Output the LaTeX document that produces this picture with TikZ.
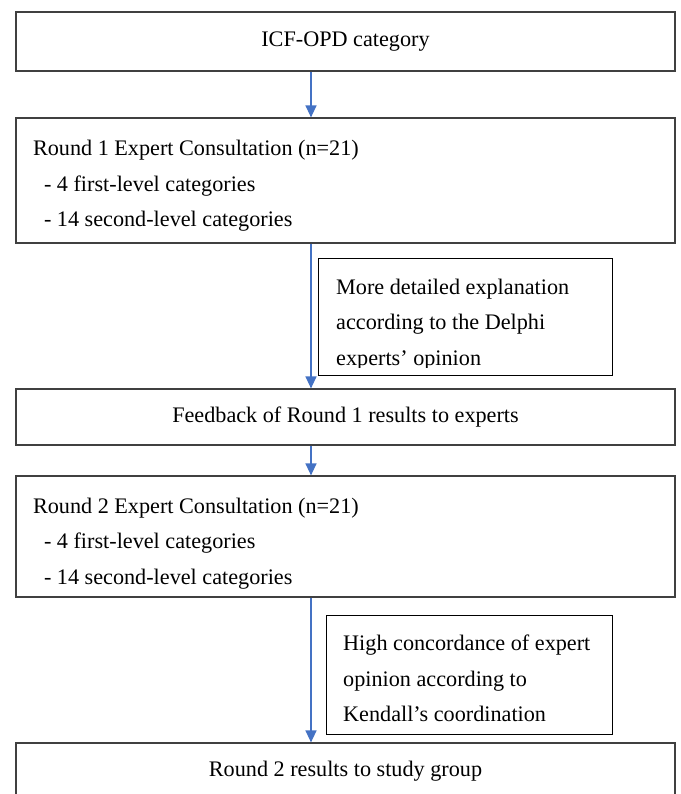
\documentclass[tikz,border=0pt]{standalone}
\usepackage{fontspec}
\setmainfont{Liberation Serif}
\usetikzlibrary{arrows.meta, positioning}
\definecolor{FlowBlue}{RGB}{68, 114, 196}
\definecolor{BoxLine}{RGB}{64, 64, 64}

\begin{document}
\begin{tikzpicture}[
    x=1pt, y=-1pt,
    font=\fontsize{22.2}{35.5}\selectfont,
    >={Triangle[length=12pt, width=11pt]},
    stage/.style={draw=BoxLine, line width=1.2pt, rectangle, minimum width=659pt,
                  text width=625pt, inner xsep=17pt, inner ysep=0pt, align=flush center},
    stagelist/.style={stage, align=flush left},
    notebox/.style={draw=black, line width=1pt, rectangle, inner sep=0pt},
    notetext/.style={anchor=north west, inner sep=0pt, align=left},
    flow/.style={->, FlowBlue, line width=1.3pt}
]

% --- Page frame (fixes margins) ---
\path[use as bounding box, clip] (0,0) rectangle (680,794);

% --- Main stages ---
\node[stage, minimum height=59pt] (icf) at (345.5, 41.5) {ICF-OPD category};
\node[stagelist, minimum height=125pt] (round1) at (345.5, 180.5)
    {\rule{0pt}{26pt}Round 1 Expert Consultation (n=21)\\
     \hspace*{11pt}- 4 first-level categories\\
     \hspace*{11pt}- 14 second-level categories};
\node[stage, minimum height=56pt] (feedback) at (345.5, 417) {Feedback of Round 1 results to experts};
\node[stagelist, minimum height=121pt] (round2) at (345.5, 536.5)
    {\rule{0pt}{29pt}Round 2 Expert Consultation (n=21)\\
     \hspace*{11pt}- 4 first-level categories\\
     \hspace*{11pt}- 14 second-level categories};
\node[stage, minimum height=56pt] (results) at (345.5, 771) {Round 2 results to study group};

% --- Side notes ---
\node[notebox, minimum width=294pt, minimum height=117pt] (note1) at (465, 316.5) {};
\begin{scope}
    \clip (note1.north west) rectangle ([yshift=8pt]note1.south east);
    \node[notetext] (note1text) at (336, 278.8)
        {More detailed explanation\\according to the Delphi\\experts’ opinion};
\end{scope}
\node[notebox, minimum width=286pt, minimum height=119pt] (note2) at (469, 674.5) {};
\node[notetext] (note2text) at (343, 635)
    {High concordance of expert\\opinion according to\\Kendall’s coordination};

% --- Flow arrows ---
\coordinate (spine) at (311, 0);
\draw[flow] (icf.south -| spine) -- (round1.north -| spine);
\draw[flow] (round1.south -| spine) -- (feedback.north -| spine);
\draw[flow] (feedback.south -| spine) -- (round2.north -| spine);
\draw[flow] (round2.south -| spine) -- (results.north -| spine);

\end{tikzpicture}
\end{document}
